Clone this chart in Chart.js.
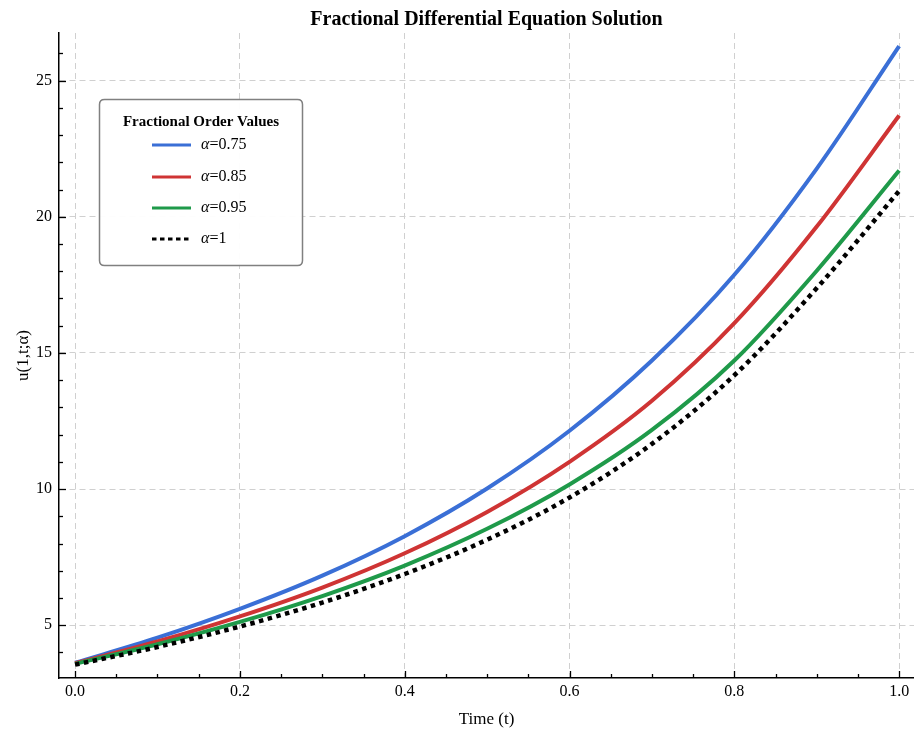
<!DOCTYPE html>
<html>
<head>
<meta charset="utf-8">
<script src="https://cdn.jsdelivr.net/npm/chart.js@4.4.1/dist/chart.umd.min.js"></script>
<style>
  html, body { margin: 0; padding: 0; background: #fff; }
  #wrap { width: 914px; height: 735px; position: relative; }
</style>
</head>
<body>
<div id="wrap"><canvas id="c"></canvas></div>
<script>
// ---- data ----
const tValues   = [0.0, 0.1, 0.2, 0.3, 0.4, 0.5, 0.6, 0.7, 0.8, 0.9, 1.0];
const alpha075  = [3.62, 4.54, 5.60, 6.82, 8.27, 10.02, 12.14, 14.72, 17.87, 21.77, 26.27];
const alpha085  = [3.60, 4.40, 5.32, 6.38, 7.64, 9.16, 11.00, 13.24, 16.09, 19.64, 23.72];
const alpha095  = [3.58, 4.30, 5.12, 6.07, 7.19, 8.54, 10.17, 12.17, 14.72, 18.02, 21.70];
const alpha100  = [3.55, 4.20, 4.95, 5.83, 6.88, 8.14, 9.69, 11.66, 14.18, 17.38, 20.95];
const alphaLabels = ['0.75', '0.85', '0.95', '1'];
const xTickValues = [0.0, 0.2, 0.4, 0.6, 0.8, 1.0];
const yTickValues = [5, 10, 15, 20, 25];

const FONT = "'Liberation Serif', 'Times New Roman', serif";

function pts(ys) { return tValues.map((t, i) => ({ x: t, y: ys[i] })); }

const series = [alpha075, alpha085, alpha095, alpha100];
const colors = ['#3a6fd6', '#cf3434', '#1f9a4a', '#000000'];
const orders = [4, 3, 2, 1];

const datasets = series.map((s, i) => ({
  label: 'α=' + alphaLabels[i],
  data: pts(s),
  borderColor: colors[i],
  backgroundColor: colors[i],
  borderWidth: i === 3 ? 4.5 : 4,
  borderDash: i === 3 ? [4.5, 4.5] : [],
  borderCapStyle: 'butt',
  pointRadius: 0,
  fill: false,
  cubicInterpolationMode: 'monotone',
  order: orders[i]
}));

const ticksAndLegend = {
  id: 'ticksAndLegend',
  afterDraw(chart) {
    const ctx = chart.ctx;
    const xs = chart.scales.x, ys = chart.scales.y;
    const ca = chart.chartArea;
    ctx.save();
    ctx.strokeStyle = '#000';
    ctx.lineWidth = 1.3;
    // x ticks (inward), minor every 0.05
    for (let i = 0; i <= 20; i++) {
      const v = i * 0.05;
      const px = Math.round(xs.getPixelForValue(v)) + 0.5;
      const len = (i % 4 === 0) ? 7 : 4;
      ctx.beginPath();
      ctx.moveTo(px, ca.bottom);
      ctx.lineTo(px, ca.bottom - len);
      ctx.stroke();
    }
    // y ticks (inward), minor every 1
    for (let v = 4; v <= 26; v++) {
      const py = Math.round(ys.getPixelForValue(v)) + 0.5;
      const len = (v % 5 === 0) ? 7 : 4;
      ctx.beginPath();
      ctx.moveTo(ca.left, py);
      ctx.lineTo(ca.left + len, py);
      ctx.stroke();
    }
    // legend box
    const bx = 99.5, by = 99.5, bw = 203, bh = 166, r = 5;
    ctx.beginPath();
    ctx.moveTo(bx + r, by);
    ctx.lineTo(bx + bw - r, by);
    ctx.quadraticCurveTo(bx + bw, by, bx + bw, by + r);
    ctx.lineTo(bx + bw, by + bh - r);
    ctx.quadraticCurveTo(bx + bw, by + bh, bx + bw - r, by + bh);
    ctx.lineTo(bx + r, by + bh);
    ctx.quadraticCurveTo(bx, by + bh, bx, by + bh - r);
    ctx.lineTo(bx, by + r);
    ctx.quadraticCurveTo(bx, by, bx + r, by);
    ctx.closePath();
    ctx.fillStyle = 'rgba(255,255,255,0.95)';
    ctx.fill();
    ctx.strokeStyle = '#808080';
    ctx.lineWidth = 1.5;
    ctx.stroke();
    // legend title
    ctx.fillStyle = '#000';
    ctx.font = 'bold 15px ' + FONT;
    ctx.textAlign = 'center';
    ctx.textBaseline = 'middle';
    ctx.fillText('Fractional Order Values', 201, 122);
    // legend items
    const rowY = [145, 177, 208, 239];
    chart.data.datasets.forEach((ds, i) => {
      const y = rowY[i];
      ctx.save();
      ctx.strokeStyle = ds.borderColor;
      ctx.lineWidth = 3;
      ctx.lineCap = 'butt';
      ctx.setLineDash(i === 3 ? [4.5, 3.5] : []);
      ctx.beginPath();
      ctx.moveTo(152, y);
      ctx.lineTo(191, y);
      ctx.stroke();
      ctx.restore();
      ctx.fillStyle = '#000';
      ctx.textAlign = 'left';
      ctx.textBaseline = 'middle';
      ctx.font = 'italic 16px ' + FONT;
      ctx.fillText('α', 201, y);
      const w = ctx.measureText('α').width;
      ctx.font = '16px ' + FONT;
      ctx.fillText('=' + alphaLabels[i], 201 + w, y);
    });
    ctx.restore();
  }
};

new Chart(document.getElementById('c'), {
  type: 'line',
  data: { datasets },
  plugins: [ticksAndLegend],
  options: {
    responsive: true,
    maintainAspectRatio: false,
    animation: false,
    layout: { padding: { left: 0, right: 0, top: 0, bottom: 0 } },
    plugins: {
      legend: { display: false },
      tooltip: { enabled: false },
      title: {
        display: true,
        text: 'Fractional Differential Equation Solution',
        color: '#000',
        font: { family: FONT, size: 20, weight: 'bold', lineHeight: 1.2 },
        padding: { top: 8, bottom: 1 },
        fullSize: false
      }
    },
    scales: {
      x: {
        type: 'linear',
        min: -0.0195,
        max: 1.018,
        afterBuildTicks: (s) => { s.ticks = xTickValues.map(v => ({ value: v })); },
        afterFit: (s) => { s.height = 57; },
        ticks: {
          color: '#000',
          font: { family: FONT, size: 16 },
          padding: 4,
          maxRotation: 0,
          callback: (v) => Number(v).toFixed(1)
        },
        grid: { color: '#d0d0d0', lineWidth: 1, drawTicks: false },
        border: { display: true, color: '#000', width: 1.5, dash: [6, 4] },
        title: {
          display: true,
          text: 'Time (t)',
          color: '#000',
          font: { family: FONT, size: 17 },
          padding: { top: 0, bottom: 5 }
        }
      },
      y: {
        type: 'linear',
        min: 3.06,
        max: 26.75,
        afterBuildTicks: (s) => { s.ticks = yTickValues.map(v => ({ value: v })); },
        afterFit: (s) => { s.width = 59; },
        ticks: {
          color: '#000',
          font: { family: FONT, size: 16 },
          padding: 7,
          callback: (v) => String(v)
        },
        grid: { color: '#d0d0d0', lineWidth: 1, drawTicks: false },
        border: { display: true, color: '#000', width: 1.5, dash: [6, 4] },
        title: {
          display: true,
          text: 'u(1,t;α)',
          color: '#000',
          font: { family: FONT, size: 17 },
          padding: { top: 13, bottom: 0 }
        }
      }
    }
  }
});
</script>
</body>
</html>
